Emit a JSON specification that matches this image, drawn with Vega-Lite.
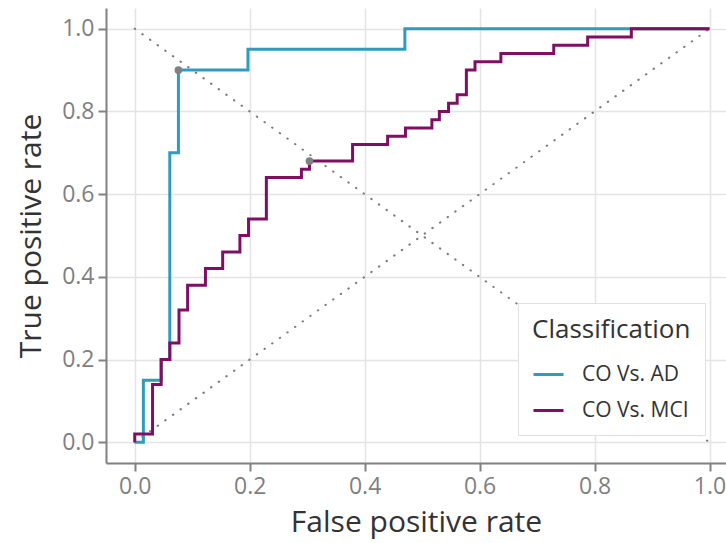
{
  "$schema": "https://vega.github.io/schema/vega-lite/v6.json",
  "width": 620,
  "height": 455,
  "autosize": {"type": "none"},
  "padding": {"left": 106, "top": 8, "right": 0, "bottom": 80},
  "background": "white",
  "config": {
    "view": {"stroke": null},
    "font": "Open Sans",
    "axis": {
      "domainColor": "#808080", "domainWidth": 2,
      "tickColor": "#808080", "tickWidth": 2, "tickSize": 8,
      "gridColor": "#e4e4e4", "gridWidth": 1.5,
      "labelColor": "#7f7f7f", "labelFontSize": 23, "labelFont": "Open Sans",
      "titleFont": "Open Sans", "titleFontSize": 30, "titleFontWeight": "normal", "titleColor": "#333333",
      "labelPadding": 4
    }
  },
  "datasets": {
    "roc": [
      {"series": "CO Vs. AD", "i": 0, "fpr": 0, "tpr": 0},
      {"series": "CO Vs. AD", "i": 1, "fpr": 0.015, "tpr": 0},
      {"series": "CO Vs. AD", "i": 2, "fpr": 0.015, "tpr": 0.15},
      {"series": "CO Vs. AD", "i": 3, "fpr": 0.046, "tpr": 0.15},
      {"series": "CO Vs. AD", "i": 4, "fpr": 0.046, "tpr": 0.2},
      {"series": "CO Vs. AD", "i": 5, "fpr": 0.061, "tpr": 0.2},
      {"series": "CO Vs. AD", "i": 6, "fpr": 0.061, "tpr": 0.7},
      {"series": "CO Vs. AD", "i": 7, "fpr": 0.076, "tpr": 0.7},
      {"series": "CO Vs. AD", "i": 8, "fpr": 0.076, "tpr": 0.9},
      {"series": "CO Vs. AD", "i": 9, "fpr": 0.197, "tpr": 0.9},
      {"series": "CO Vs. AD", "i": 10, "fpr": 0.197, "tpr": 0.95},
      {"series": "CO Vs. AD", "i": 11, "fpr": 0.47, "tpr": 0.95},
      {"series": "CO Vs. AD", "i": 12, "fpr": 0.47, "tpr": 1.0},
      {"series": "CO Vs. AD", "i": 13, "fpr": 1.0, "tpr": 1.0},
      {"series": "CO Vs. MCI", "i": 0, "fpr": 0, "tpr": 0},
      {"series": "CO Vs. MCI", "i": 1, "fpr": 0, "tpr": 0.02},
      {"series": "CO Vs. MCI", "i": 2, "fpr": 0.031, "tpr": 0.02},
      {"series": "CO Vs. MCI", "i": 3, "fpr": 0.031, "tpr": 0.14},
      {"series": "CO Vs. MCI", "i": 4, "fpr": 0.046, "tpr": 0.14},
      {"series": "CO Vs. MCI", "i": 5, "fpr": 0.046, "tpr": 0.2},
      {"series": "CO Vs. MCI", "i": 6, "fpr": 0.061, "tpr": 0.2},
      {"series": "CO Vs. MCI", "i": 7, "fpr": 0.061, "tpr": 0.24},
      {"series": "CO Vs. MCI", "i": 8, "fpr": 0.077, "tpr": 0.24},
      {"series": "CO Vs. MCI", "i": 9, "fpr": 0.077, "tpr": 0.32},
      {"series": "CO Vs. MCI", "i": 10, "fpr": 0.092, "tpr": 0.32},
      {"series": "CO Vs. MCI", "i": 11, "fpr": 0.092, "tpr": 0.38},
      {"series": "CO Vs. MCI", "i": 12, "fpr": 0.123, "tpr": 0.38},
      {"series": "CO Vs. MCI", "i": 13, "fpr": 0.123, "tpr": 0.42},
      {"series": "CO Vs. MCI", "i": 14, "fpr": 0.153, "tpr": 0.42},
      {"series": "CO Vs. MCI", "i": 15, "fpr": 0.153, "tpr": 0.46},
      {"series": "CO Vs. MCI", "i": 16, "fpr": 0.183, "tpr": 0.46},
      {"series": "CO Vs. MCI", "i": 17, "fpr": 0.183, "tpr": 0.5},
      {"series": "CO Vs. MCI", "i": 18, "fpr": 0.198, "tpr": 0.5},
      {"series": "CO Vs. MCI", "i": 19, "fpr": 0.198, "tpr": 0.54},
      {"series": "CO Vs. MCI", "i": 20, "fpr": 0.229, "tpr": 0.54},
      {"series": "CO Vs. MCI", "i": 21, "fpr": 0.229, "tpr": 0.64},
      {"series": "CO Vs. MCI", "i": 22, "fpr": 0.29, "tpr": 0.64},
      {"series": "CO Vs. MCI", "i": 23, "fpr": 0.29, "tpr": 0.66},
      {"series": "CO Vs. MCI", "i": 24, "fpr": 0.304, "tpr": 0.66},
      {"series": "CO Vs. MCI", "i": 25, "fpr": 0.304, "tpr": 0.68},
      {"series": "CO Vs. MCI", "i": 26, "fpr": 0.379, "tpr": 0.68},
      {"series": "CO Vs. MCI", "i": 27, "fpr": 0.379, "tpr": 0.72},
      {"series": "CO Vs. MCI", "i": 28, "fpr": 0.44, "tpr": 0.72},
      {"series": "CO Vs. MCI", "i": 29, "fpr": 0.44, "tpr": 0.74},
      {"series": "CO Vs. MCI", "i": 30, "fpr": 0.471, "tpr": 0.74},
      {"series": "CO Vs. MCI", "i": 31, "fpr": 0.471, "tpr": 0.76},
      {"series": "CO Vs. MCI", "i": 32, "fpr": 0.517, "tpr": 0.76},
      {"series": "CO Vs. MCI", "i": 33, "fpr": 0.517, "tpr": 0.78},
      {"series": "CO Vs. MCI", "i": 34, "fpr": 0.53, "tpr": 0.78},
      {"series": "CO Vs. MCI", "i": 35, "fpr": 0.53, "tpr": 0.8},
      {"series": "CO Vs. MCI", "i": 36, "fpr": 0.546, "tpr": 0.8},
      {"series": "CO Vs. MCI", "i": 37, "fpr": 0.546, "tpr": 0.82},
      {"series": "CO Vs. MCI", "i": 38, "fpr": 0.561, "tpr": 0.82},
      {"series": "CO Vs. MCI", "i": 39, "fpr": 0.561, "tpr": 0.84},
      {"series": "CO Vs. MCI", "i": 40, "fpr": 0.577, "tpr": 0.84},
      {"series": "CO Vs. MCI", "i": 41, "fpr": 0.577, "tpr": 0.9},
      {"series": "CO Vs. MCI", "i": 42, "fpr": 0.592, "tpr": 0.9},
      {"series": "CO Vs. MCI", "i": 43, "fpr": 0.592, "tpr": 0.92},
      {"series": "CO Vs. MCI", "i": 44, "fpr": 0.637, "tpr": 0.92},
      {"series": "CO Vs. MCI", "i": 45, "fpr": 0.637, "tpr": 0.94},
      {"series": "CO Vs. MCI", "i": 46, "fpr": 0.729, "tpr": 0.94},
      {"series": "CO Vs. MCI", "i": 47, "fpr": 0.729, "tpr": 0.96},
      {"series": "CO Vs. MCI", "i": 48, "fpr": 0.788, "tpr": 0.96},
      {"series": "CO Vs. MCI", "i": 49, "fpr": 0.788, "tpr": 0.98},
      {"series": "CO Vs. MCI", "i": 50, "fpr": 0.864, "tpr": 0.98},
      {"series": "CO Vs. MCI", "i": 51, "fpr": 0.864, "tpr": 1.0},
      {"series": "CO Vs. MCI", "i": 52, "fpr": 1.0, "tpr": 1.0}
    ],
    "diag": [
      {"d": "a", "fpr": 0, "tpr": 0},
      {"d": "a", "fpr": 1, "tpr": 1},
      {"d": "b", "fpr": 0, "tpr": 1},
      {"d": "b", "fpr": 1, "tpr": 0}
    ],
    "best": [
      {"series": "CO Vs. AD", "fpr": 0.076, "tpr": 0.9},
      {"series": "CO Vs. MCI", "fpr": 0.304, "tpr": 0.68}
    ]
  },
  "layer": [
    {
      "data": {"name": "diag"},
      "mark": {"type": "line", "color": "#7a7a7a", "strokeWidth": 2, "strokeDash": [0.5, 8.9], "strokeCap": "round"},
      "encoding": {
        "x": {"field": "fpr", "type": "quantitative", "scale": {"domain": [-0.05, 1.0287], "nice": false, "zero": false},
              "axis": {"values": [0, 0.2, 0.4, 0.6, 0.8, 1.0], "format": ".1f", "title": "False positive rate", "titlePadding": 9}},
        "y": {"field": "tpr", "type": "quantitative", "scale": {"domain": [-0.05, 1.05], "nice": false, "zero": false},
              "axis": {"values": [0, 0.2, 0.4, 0.6, 0.8, 1.0], "format": ".1f", "title": "True positive rate", "titlePadding": 15}},
        "detail": {"field": "d"}
      }
    },
    {
      "data": {"name": "roc"},
      "mark": {"type": "line", "strokeWidth": 3},
      "encoding": {
        "x": {"field": "fpr", "type": "quantitative"},
        "y": {"field": "tpr", "type": "quantitative"},
        "order": {"field": "i", "type": "quantitative"},
        "color": {
          "field": "series", "type": "nominal",
          "scale": {"domain": ["CO Vs. AD", "CO Vs. MCI"], "range": ["#2f9bbf", "#7f0f64"]},
          "legend": {
            "orient": "none", "legendX": 412, "legendY": 295,
            "title": "Classification", "fillColor": "white", "strokeColor": "#e0e0e0",
            "padding": 14, "titleFontSize": 26, "titleFontWeight": "normal", "titleColor": "#333333",
            "labelFontSize": 21, "labelColor": "#333333", "symbolSize": 900, "symbolStrokeWidth": 3,
            "symbolType": "stroke", "labelOffset": 17, "rowPadding": 9, "titlePadding": 15
          }
        }
      }
    },
    {
      "data": {"name": "best"},
      "mark": {"type": "point", "filled": true, "color": "#808080", "size": 60, "opacity": 1},
      "encoding": {
        "x": {"field": "fpr", "type": "quantitative"},
        "y": {"field": "tpr", "type": "quantitative"}
      }
    }
  ]
}
